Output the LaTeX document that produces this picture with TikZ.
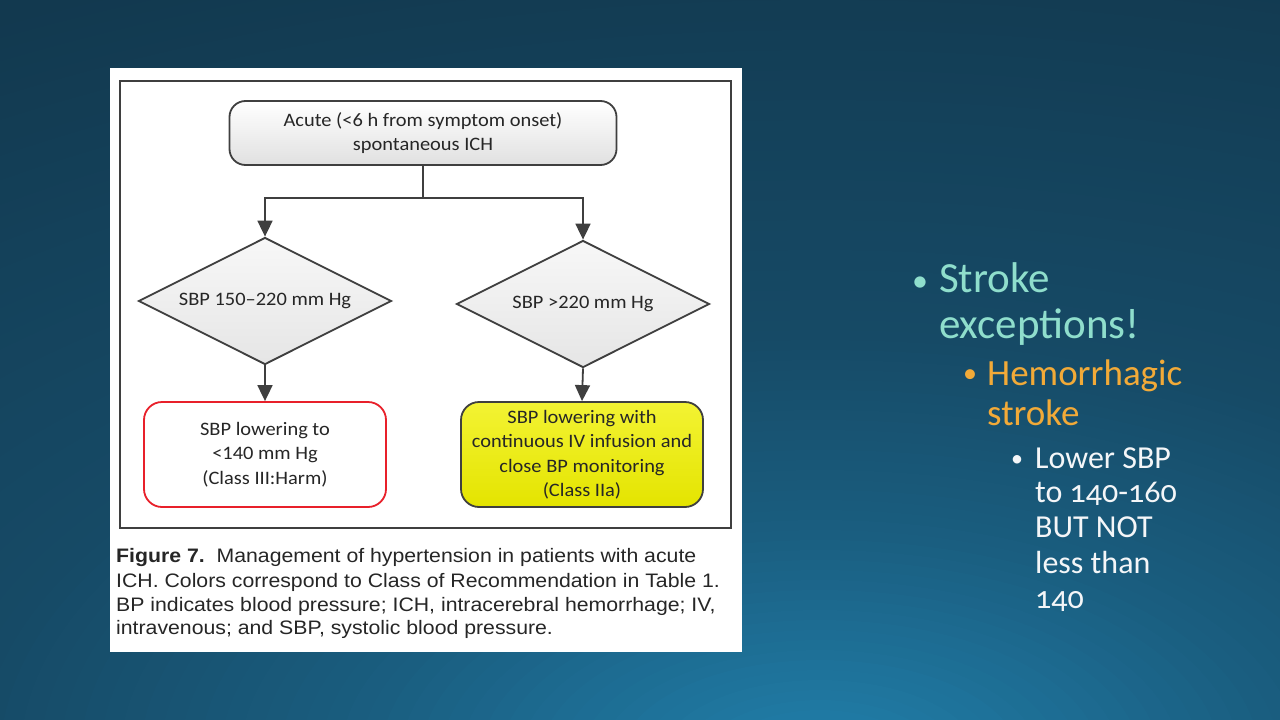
\documentclass[tikz,border=0pt]{standalone}
\usepackage{fontspec}
\setmainfont{Carlito}
\newfontfamily\flowfont[FakeStretch=1.075]{Carlito}
\newfontfamily\capfont[FakeStretch=1.09]{Liberation Sans}
\usetikzlibrary{shapes.geometric,arrows.meta}
\definecolor{bgA}{HTML}{2181AD}
\definecolor{bgB}{HTML}{1A5E80}
\definecolor{bgC}{HTML}{164A66}
\definecolor{bgD}{HTML}{12394F}
\definecolor{lineg}{HTML}{3F3F3F}
\definecolor{harmred}{HTML}{E8202A}
\definecolor{classyel}{HTML}{F0F000}
\definecolor{tealtxt}{HTML}{8FDECC}
\definecolor{orangetxt}{HTML}{F2AA38}
\definecolor{whitetxt}{HTML}{F4F6F8}
\tikzset{
  flowtext/.style={font=\flowfont\fontsize{19}{24.5}\selectfont, text=black!85, align=center, inner sep=0pt},
  startbox/.style={flowtext, draw=lineg, line width=1.8pt, rounded corners=16pt, top color=white, bottom color=black!12, minimum width=387pt, minimum height=64pt},
  decision/.style={flowtext, diamond, aspect=2, draw=lineg, line width=1.8pt, top color=black!3, bottom color=black!10, minimum width=253pt, minimum height=127pt, inner sep=0pt},
  classbox/.style={flowtext, line width=1.8pt, rounded corners=18pt, minimum width=242pt, minimum height=105pt},
  flowarrow/.style={draw=lineg, line width=1.8pt, -{Triangle[length=16pt,width=15pt]}},
  flowline/.style={draw=lineg, line width=1.8pt},
  capline/.style={font=\capfont\fontsize{19.5}{24}\selectfont, text=black!85, anchor=base west, inner sep=0pt},
  lvlone/.style={font=\fontsize{43}{46}\selectfont, text=tealtxt, anchor=base west, inner sep=0pt},
  lvltwo/.style={font=\fontsize{37}{40}\selectfont, text=orangetxt, anchor=base west, inner sep=0pt},
  lvlthree/.style={font=\fontsize{32}{35}\selectfont\addfontfeatures{Numbers=OldStyle}, text=whitetxt, anchor=base west, inner sep=0pt}
}
\begin{document}
\begin{tikzpicture}[x=1pt,y=-1pt]
\useasboundingbox (0,0) rectangle (1280,720);
% slide background
\begin{scope}
\clip (0,0) rectangle (1280,720);
\fill[bgD] (0,0) rectangle (1280,720);
\foreach \r in {900,890,...,440}{
  \pgfmathsetmacro\p{min(100,(\r-430)/(850-430)*100)}
  \colorlet{ringc}{bgD!\p!bgC}
  \fill[ringc] (820,760) ellipse ({2*\r} and \r);
}
\foreach \r in {430,420,...,240}{
  \pgfmathsetmacro\p{(\r-230)/(430-230)*100}
  \colorlet{ringc}{bgC!\p!bgB}
  \fill[ringc] (820,760) ellipse ({2*\r} and \r);
}
\foreach \r in {230,220,...,10}{
  \pgfmathsetmacro\p{\r/230*100}
  \colorlet{ringc}{bgB!\p!bgA}
  \fill[ringc] (820,760) ellipse ({2*\r} and \r);
}
\end{scope}
% figure panel
\fill[white] (110,68) rectangle (742,652);
\draw[lineg, line width=1.6pt] (120,81) rectangle (731,528);
% flowchart
\node[startbox] (top) at (423,133) {Acute (<6 h from symptom onset)\\spontaneous ICH};
\node[decision] (d1) at (265,301) {SBP 150–220 mm Hg};
\node[decision] (d2) at (583,304) {SBP >220 mm Hg};
\node[classbox, draw=harmred, fill=white] (b1) at (265,454.5) {SBP lowering to\\<140 mm Hg\\(Class III:Harm)};
\node[classbox, draw=lineg, top color=classyel!80!white, bottom color=classyel!95!black] (b2) at (582,454.5) {SBP lowering with\\continuous IV infusion and\\close BP monitoring\\(Class IIa)};
\coordinate (split) at (423,198);
\draw[flowline] (top.south) -- (split);
\draw[flowarrow] (split) -| (d1.north);
\draw[flowarrow] (split) -| (d2.north);
\draw[flowarrow] (d1.south) -- (b1.north);
\draw[flowarrow] (d2.south) -- (b2.north);
% caption
\node[capline] (cap1) at (116,562) {\textbf{Figure 7.}\ \ Management of hypertension in patients with acute};
\node[capline] (cap2) at (116,587) {ICH. Colors correspond to Class of Recommendation in Table 1.};
\node[capline] (cap3) at (116,611) {BP indicates blood pressure; ICH, intracerebral hemorrhage; IV,};
\node[capline] (cap4) at (116,634) {intravenous; and SBP, systolic blood pressure.};
% right text
\node[lvlone, font=\fontsize{32}{32}\selectfont] (b1dot) at (912,291) {•};
\node[lvlone] (t1a) at (939,292) {Stroke};
\node[lvlone] (t1b) at (939,338) {exceptions!};
\node[lvltwo, font=\fontsize{28}{28}\selectfont] (b2dot) at (963,382) {•};
\node[lvltwo] (t2a) at (987,385) {Hemorrhagic};
\node[lvltwo] (t2b) at (987,425) {stroke};
\node[lvlthree, font=\fontsize{24}{24}\selectfont] (b3dot) at (1011,466) {•};
\node[lvlthree] (t3a) at (1035,468) {Lower SBP};
\node[lvlthree] (t3b) at (1035,502) {to 140-160};
\node[lvlthree] (t3c) at (1035,537) {BUT NOT};
\node[lvlthree] (t3d) at (1035,573) {less than};
\node[lvlthree] (t3e) at (1035,608) {140};
\end{tikzpicture}
\end{document}
